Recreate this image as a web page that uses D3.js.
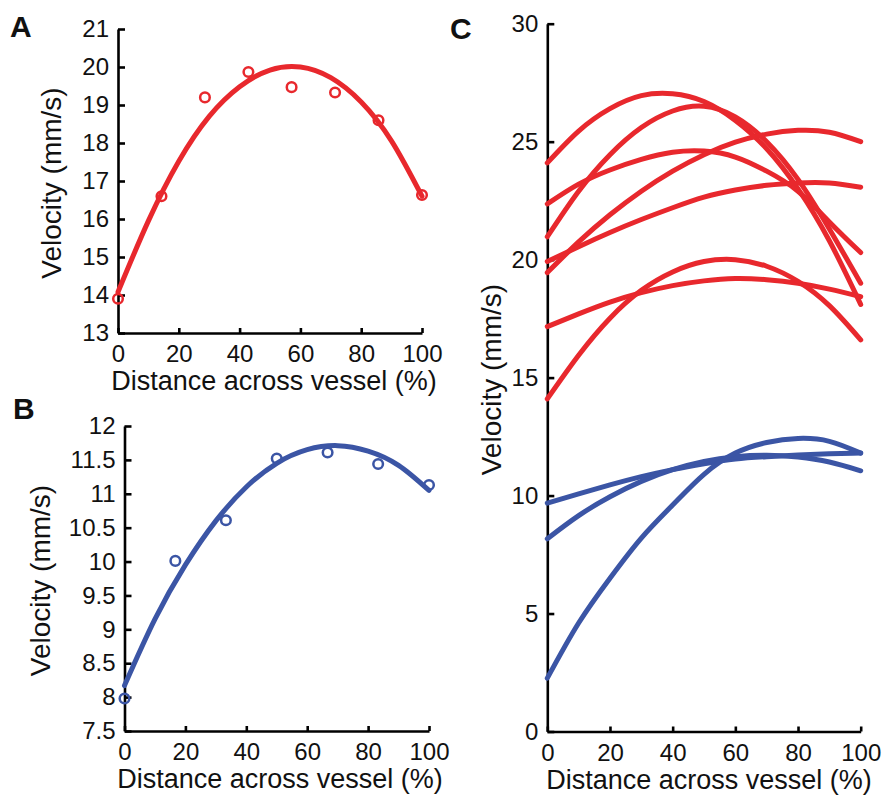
<!DOCTYPE html>
<html>
<head>
<meta charset="utf-8">
<script src="https://cdn.jsdelivr.net/npm/d3@7"></script>
<style>
    body { margin: 0; background: #fff; }
    svg text { font-family: "Liberation Sans", Arial, sans-serif; fill: #111; }
</style>
</head>
<body>
<svg id="chart" width="882" height="796"></svg>
<script>
// ---- data ----
const distance = [0, 10, 20, 30, 40, 50, 60, 70, 80, 90, 100];
const xTicks = [0, 20, 40, 60, 80, 100];

// panel A: one red profile, measured points + fit
const aPointX = [0, 14.3, 28.6, 42.9, 57.1, 71.4, 85.7, 100];
const aPointY = [13.9, 16.6, 19.2, 19.87, 19.47, 19.33, 18.6, 16.63];
const aFit = [14.08, 15.95, 17.52, 18.7, 19.48, 19.92, 20.0, 19.72, 19.08, 18.05, 16.6];
const aYTicks = [13, 14, 15, 16, 17, 18, 19, 20, 21];

// panel B: one blue profile
const bPointX = [0, 16.7, 33.3, 50, 66.7, 83.3, 100];
const bPointY = [7.98, 10.01, 10.61, 11.52, 11.61, 11.44, 11.13];
const bFit = [8.17, 9.15, 9.95, 10.6, 11.1, 11.45, 11.65, 11.71, 11.63, 11.42, 11.05];
const bYTicks = [7.5, 8, 8.5, 9, 9.5, 10, 10.5, 11, 11.5, 12];

// panel C: all fitted profiles
const redFits = [
    [24.1, 25.45, 26.4, 26.95, 27.03, 26.7, 25.9, 24.7, 23.0, 20.8, 18.1],
    [22.36, 23.2, 23.8, 24.25, 24.55, 24.6, 24.35, 23.75, 22.9, 21.6, 20.3],
    [20.97, 22.9, 24.45, 25.6, 26.3, 26.5, 26.05, 25.0, 23.4, 21.3, 19.0],
    [19.45, 20.75, 21.9, 22.9, 23.75, 24.45, 24.98, 25.32, 25.48, 25.4, 25.0],
    [19.92, 20.55, 21.15, 21.7, 22.2, 22.65, 22.95, 23.15, 23.25, 23.25, 23.07],
    [17.16, 17.7, 18.2, 18.6, 18.9, 19.1, 19.2, 19.15, 19.0, 18.75, 18.43],
    [14.1, 15.95, 17.52, 18.7, 19.48, 19.92, 20.0, 19.72, 19.08, 18.05, 16.6],
];
const blueFits = [
    [9.68, 10.07, 10.45, 10.8, 11.1, 11.35, 11.55, 11.65, 11.72, 11.77, 11.8],
    [8.17, 9.15, 9.95, 10.6, 11.1, 11.45, 11.65, 11.71, 11.63, 11.42, 11.05],
    [2.26, 4.6, 6.5, 8.2, 9.6, 10.9, 11.8, 12.25, 12.42, 12.3, 11.8],
];
const cYTicks = [0, 5, 10, 15, 20, 25, 30];

const RED = "#e8282d";
const BLUE = "#3b55a5";
const svg = d3.select("#chart");

function drawAxes(x, y, yTicks, opts) {
    const g = svg.append("g");
    const left = x.range()[0];
    const bottom = y.range()[0];

    g.append("g")
        .attr("transform", `translate(0,${bottom})`)
        .call(d3.axisBottom(x).tickValues(xTicks).tickSizeInner(-5).tickSizeOuter(0).tickPadding(12))
        .call((a) => a.selectAll("text").attr("font-size", 24));
    g.append("g")
        .attr("transform", `translate(${left},0)`)
        .call(d3.axisLeft(y).tickValues(yTicks).tickFormat(d3.format("")).tickSizeInner(-7).tickSizeOuter(0).tickPadding(9))
        .call((a) => a.selectAll("text").attr("font-size", 24));

    g.selectAll(".domain").attr("stroke", "#000").attr("stroke-width", 2.6);
    g.selectAll(".tick line").attr("stroke", "#000").attr("stroke-width", 2.6);
    g.selectAll(".tick text").style("fill", "#111");

    // axis titles
    g.append("text")
        .attr("x", opts.xTitleX)
        .attr("y", bottom + 57)
        .attr("text-anchor", "middle")
        .attr("font-size", 27)
        .text("Distance across vessel (%)");
    g.append("text")
        .attr("transform", `translate(${opts.yTitleX},${(bottom + y.range()[1]) / 2 + 2}) rotate(-90)`)
        .attr("text-anchor", "middle")
        .attr("font-size", 28)
        .text("Velocity (mm/s)");
    g.append("text")
        .attr("x", opts.letterX)
        .attr("y", opts.letterY)
        .attr("font-size", 30)
        .attr("font-weight", "bold")
        .text(opts.letter);
}

function drawCurve(x, y, values, color) {
    const line = d3.line()
        .x((d, i) => x(distance[i]))
        .y((d) => y(d))
        .curve(d3.curveNatural);
    svg.append("path")
        .datum(values)
        .attr("d", line)
        .attr("fill", "none")
        .attr("stroke", color)
        .attr("stroke-width", 5)
        .attr("stroke-linecap", "round");
}

function drawPoints(x, y, xs, ys, color) {
    svg.append("g")
        .selectAll("circle")
        .data(ys)
        .join("circle")
        .attr("cx", (d, i) => x(xs[i]))
        .attr("cy", (d) => y(d))
        .attr("r", 4.8)
        .attr("fill", "none")
        .attr("stroke", color)
        .attr("stroke-width", 2.5);
}

// panel A
const xA = d3.scaleLinear().domain([0, 100]).range([118, 422]);
const yA = d3.scaleLinear().domain([13, 21]).range([333, 29]);
drawAxes(xA, yA, aYTicks, { xTitleX: 274, yTitleX: 61, letter: "A", letterX: 10, letterY: 37 });
drawPoints(xA, yA, aPointX, aPointY, RED);
drawCurve(xA, yA, aFit, RED);

// panel B
const xB = d3.scaleLinear().domain([0, 100]).range([124.5, 429]);
const yB = d3.scaleLinear().domain([7.5, 12]).range([731, 426]);
drawAxes(xB, yB, bYTicks, { xTitleX: 280, yTitleX: 50, letter: "B", letterX: 13, letterY: 419 });
drawPoints(xB, yB, bPointX, bPointY, BLUE);
drawCurve(xB, yB, bFit, BLUE);

// panel C
const xC = d3.scaleLinear().domain([0, 100]).range([547.3, 860.7]);
const yC = d3.scaleLinear().domain([0, 30]).range([731.5, 23.7]);
drawAxes(xC, yC, cYTicks, { xTitleX: 709, yTitleX: 501, letter: "C", letterX: 450, letterY: 39 });
redFits.forEach((v) => drawCurve(xC, yC, v, RED));
blueFits.forEach((v) => drawCurve(xC, yC, v, BLUE));
</script>
</body>
</html>
